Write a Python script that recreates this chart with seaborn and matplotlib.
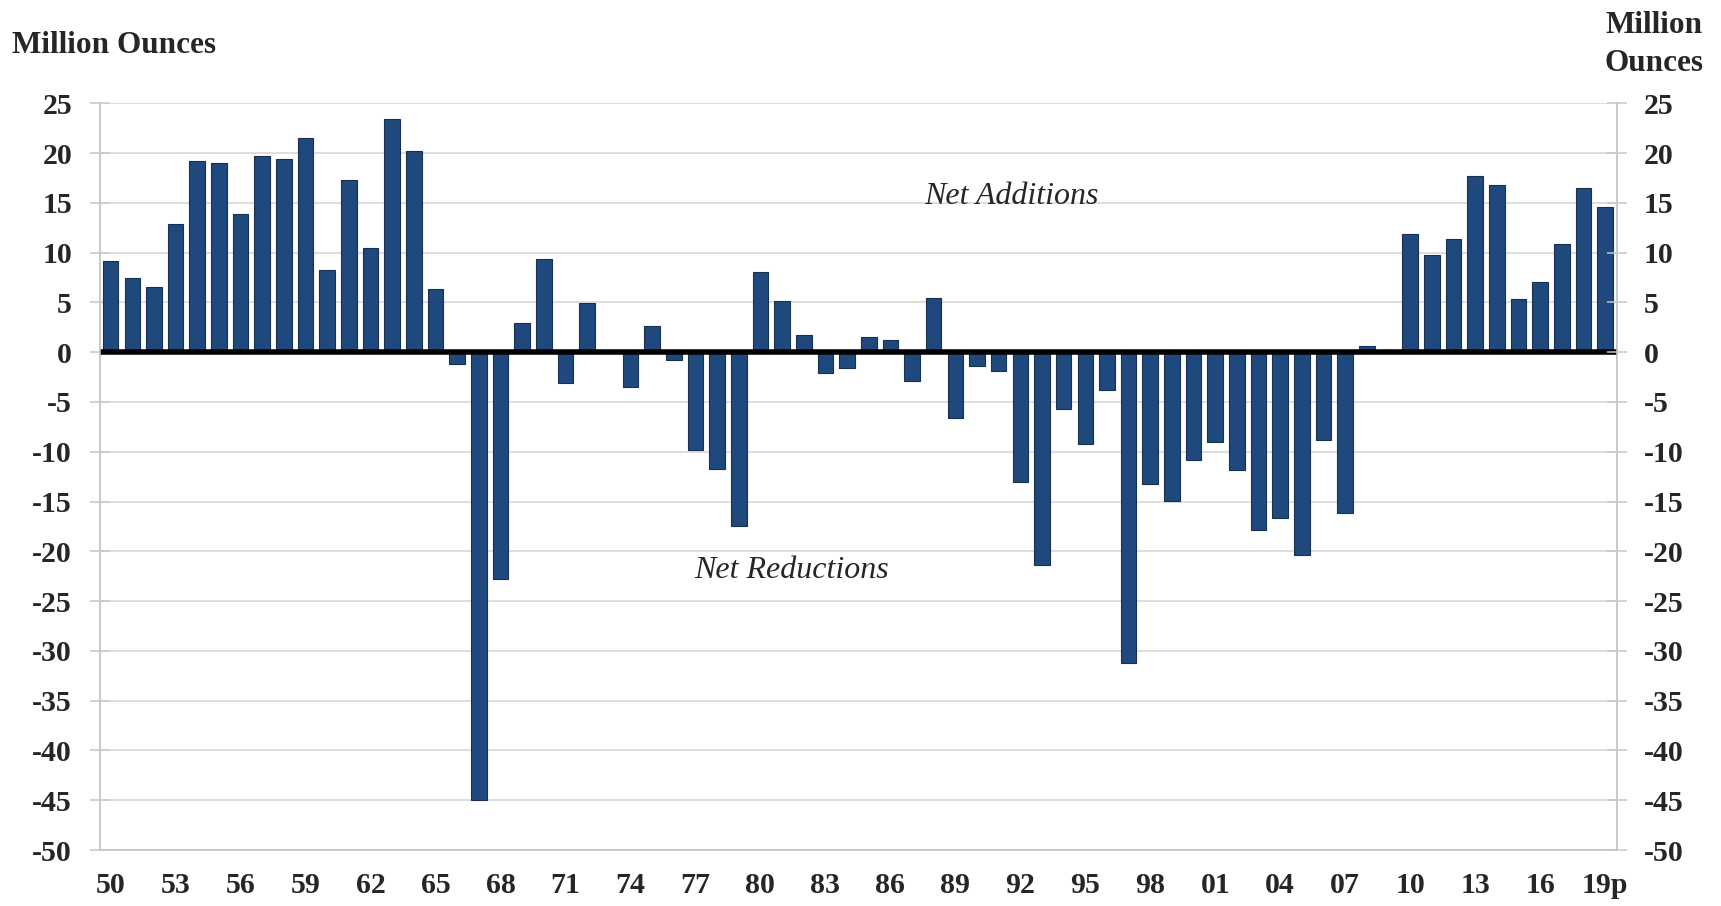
import numpy as np
import pandas as pd
import matplotlib
matplotlib.use("Agg")
import matplotlib.pyplot as plt
import seaborn as sns

# yearly net change, million ounces (1950 .. 2019p)
years = [str(y) for y in range(1950, 2020)]
net_change = [9.2, 7.5, 6.5, 12.9, 19.2, 19.0, 13.9, 19.7, 19.4, 21.5,
              8.3, 17.3, 10.5, 23.4, 20.2, 6.3, -1.2, -45.0, -22.8, 2.9,
              9.4, -3.1, 4.9, 0.0, -3.5, 2.6, -0.8, -9.8, -11.7, -17.5,
              8.1, 5.1, 1.7, -2.1, -1.6, 1.5, 1.2, -2.9, 5.4, -6.6,
              -1.4, -1.9, -13.0, -21.4, -5.7, -9.2, -3.8, -31.2, -13.2, -14.9,
              -10.8, -9.0, -11.8, -17.9, -16.7, -20.4, -8.8, -16.2, 0.6, 0.2,
              11.9, 9.8, 11.4, 17.7, 16.8, 5.3, 7.1, 10.9, 16.5, 14.6]
tick_labels = ["50", "53", "56", "59", "62", "65", "68", "71", "74", "77", "80", "83",
               "86", "89", "92", "95", "98", "01", "04", "07", "10", "13", "16", "19p"]
y_ticks = list(range(-50, 30, 5))

df = pd.DataFrame({"year": years, "value": net_change})

sns.set_style("white")
plt.rcParams['font.family'] = ['Liberation Serif', 'DejaVu Serif']
plt.rcParams['font.weight'] = 'bold'
plt.rcParams['axes.unicode_minus'] = False

fig, ax = plt.subplots(figsize=(17.21, 9.06), dpi=100)
fig.subplots_adjust(left=0.058, right=0.9396, top=0.886, bottom=0.0618)

sns.barplot(data=df, x="year", y="value", color="#1F497D", saturation=1,
            width=0.72, edgecolor="#17304f", linewidth=0.8, ax=ax, zorder=2)

ax.set_xlim(-0.5, 69.55)
ax.set_ylim(-50, 25)
ax.set_yticks(y_ticks)
ax.set_xticks(range(0, len(years), 3))
ax.set_xticklabels(tick_labels)
ax.set_xlabel("")
ax.set_ylabel("")

ax.yaxis.grid(True, color="#d4d4d4", linewidth=1.1)
ax.set_axisbelow(True)
ax.axhline(0, color="black", linewidth=4, zorder=4)

ax.spines["top"].set_visible(False)
for s in ["left", "right", "bottom"]:
    ax.spines[s].set_color("#c8c8c8")
    ax.spines[s].set_linewidth(1.1)

ax.tick_params(axis="y", direction="inout", length=14, width=1.1, color="#c8c8c8",
               pad=13, labelsize=21.5)
ax.tick_params(axis="x", length=0, pad=16, labelsize=21.5)

ax2 = ax.twinx()
ax2.set_ylim(ax.get_ylim())
ax2.set_yticks(y_ticks)
ax2.spines["top"].set_visible(False)
for s in ["left", "right", "bottom"]:
    ax2.spines[s].set_color("#c8c8c8")
    ax2.spines[s].set_linewidth(1.1)
ax2.tick_params(axis="y", direction="inout", length=14, width=1.1, color="#c8c8c8",
                pad=12, labelsize=21.5)

for lab in ax.get_xticklabels() + ax.get_yticklabels() + ax2.get_yticklabels():
    lab.set_fontweight("bold")

ax.text(41.6, 14.9, "Net Additions", style="italic", fontweight="normal",
        fontsize=23, ha="center", va="baseline")
ax.text(31.45, -22.7, "Net Reductions", style="italic", fontweight="normal",
        fontsize=23, ha="center", va="baseline")

fig.text(0.007, 1 - 53 / 906, "Million Ounces", fontsize=22.5, fontweight="bold",
         ha="left", va="baseline")
fig.text(0.961, 1 - 33 / 906, "Million", fontsize=22.5, fontweight="bold",
         ha="center", va="baseline")
fig.text(0.961, 1 - 71 / 906, "Ounces", fontsize=22.5, fontweight="bold",
         ha="center", va="baseline")

plt.savefig("out.png", dpi=100, facecolor="white")
